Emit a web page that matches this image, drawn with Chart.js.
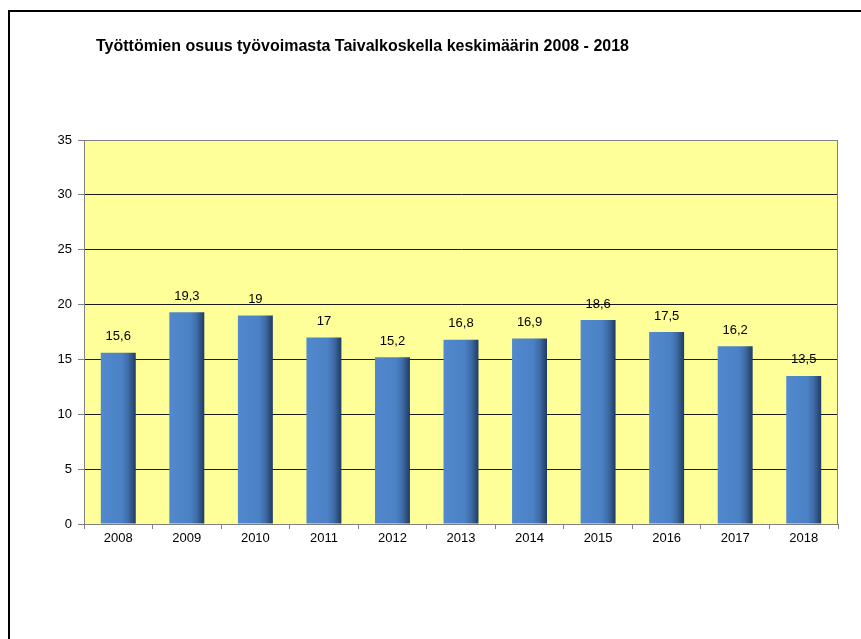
<!DOCTYPE html>
<html>
<head>
<meta charset="utf-8">
<script src="https://cdn.jsdelivr.net/npm/chart.js@4/dist/chart.umd.min.js"></script>
<style>
  html, body { margin: 0; padding: 0; background: #fff; overflow: hidden; }
  #wrap { position: relative; width: 861px; height: 639px; }
  #frame { position: absolute; left: 8px; top: 10px; width: 900px; height: 700px; border: 2px solid #000; box-sizing: border-box; }
  canvas { position: absolute; left: 0; top: 0; }
</style>
</head>
<body>
<div id="wrap">
  <div id="frame"></div>
  <canvas id="c" width="861" height="639"></canvas>
</div>
<script>
const titleText = "Työttömien osuus työvoimasta Taivalkoskella keskimäärin 2008 - 2018";
const years = ["2008","2009","2010","2011","2012","2013","2014","2015","2016","2017","2018"];
const unemploymentShare = [15.6, 19.3, 19, 17, 15.2, 16.8, 16.9, 18.6, 17.5, 16.2, 13.5];
const yTicks = [0, 5, 10, 15, 20, 25, 30, 35];

const FONT = "Arial, 'Liberation Sans', sans-serif";
const BAR_PCT = 0.51;

function fmt(v) { return String(v).replace('.', ','); }

const plotBg = {
  id: 'plotBg',
  beforeDraw(chart) {
    const a = chart.chartArea, ctx = chart.ctx;
    ctx.save();
    ctx.fillStyle = '#FFFF99';
    ctx.fillRect(a.left, a.top, a.right - a.left, a.bottom - a.top);
    ctx.restore();
  },
  afterDraw(chart) {
    const a = chart.chartArea, ctx = chart.ctx;
    ctx.save();
    ctx.strokeStyle = '#808080';
    ctx.lineWidth = 1;
    ctx.beginPath();
    ctx.moveTo(a.left + 0.5, a.top + 0.5);
    ctx.lineTo(a.right - 0.5, a.top + 0.5);
    ctx.lineTo(a.right - 0.5, a.bottom);
    ctx.stroke();
    ctx.restore();
  }
};

const titlePlugin = {
  id: 'titleText',
  afterDraw(chart) {
    const ctx = chart.ctx;
    ctx.save();
    ctx.font = "bold 16px " + FONT;
    ctx.fillStyle = '#000';
    ctx.textAlign = 'left';
    ctx.textBaseline = 'middle';
    ctx.fillText(titleText, 96, 47);
    ctx.restore();
  }
};

const valueLabels = {
  id: 'valueLabels',
  afterDatasetsDraw(chart) {
    const ctx = chart.ctx;
    const meta = chart.getDatasetMeta(0);
    ctx.save();
    ctx.font = "13px " + FONT;
    ctx.fillStyle = '#000';
    ctx.textAlign = 'center';
    ctx.textBaseline = 'middle';
    meta.data.forEach((bar, i) => {
      ctx.fillText(fmt(unemploymentShare[i]), bar.x, bar.y - 16);
    });
    ctx.restore();
  }
};

function barGradient(context) {
  const chart = context.chart;
  const xs = chart.scales && chart.scales.x;
  if (!chart.chartArea || !xs || xs.width === undefined) return '#4F86CB';
  const cx = xs.getPixelForValue(context.dataIndex);
  const w = (chart.chartArea.right - chart.chartArea.left) / years.length * BAR_PCT;
  const x0 = cx - w / 2, x1 = cx + w / 2;
  const g = chart.ctx.createLinearGradient(x0, 0, x1, 0);
  g.addColorStop(0, '#5289CE');
  g.addColorStop(0.6, '#4B82C6');
  g.addColorStop(0.78, '#3F6DA8');
  g.addColorStop(0.9, '#2E5282');
  g.addColorStop(1, '#1F3A60');
  return g;
}

new Chart(document.getElementById('c'), {
  type: 'bar',
  data: {
    labels: years,
    datasets: [{
      data: unemploymentShare,
      backgroundColor: barGradient,
      borderWidth: 0,
      barPercentage: BAR_PCT,
      categoryPercentage: 1
    }]
  },
  options: {
    responsive: false,
    animation: false,
    devicePixelRatio: 1,
    layout: { padding: { top: 140, right: 23, bottom: 0, left: 0 } },
    plugins: { legend: { display: false }, tooltip: { enabled: false }, title: { display: false } },
    scales: {
      x: {
        afterFit(s) { s.height = 115; },
        border: { display: true, color: '#808080', width: 1 },
        grid: { display: true, drawOnChartArea: false, drawTicks: true, tickLength: 5, color: '#808080', offset: true },
        ticks: { color: '#000', font: { family: FONT, size: 13 }, padding: 2, maxRotation: 0 }
      },
      y: {
        min: 0, max: 35,
        afterFit(s) { s.width = 84; },
        afterBuildTicks(s) { s.ticks = yTicks.map(v => ({ value: v })); },
        border: { display: true, color: '#808080', width: 1 },
        grid: {
          drawTicks: true, tickLength: 6,
          color: (c) => (c.tick && (c.tick.value === 0 || c.tick.value === 35)) ? '#808080' : '#1a1a1a',
          tickColor: '#808080'
        },
        ticks: { color: '#000', font: { family: FONT, size: 13 }, padding: 6, callback: (v) => String(v) }
      }
    }
  },
  plugins: [plotBg, titlePlugin, valueLabels]
});
</script>
</body>
</html>
